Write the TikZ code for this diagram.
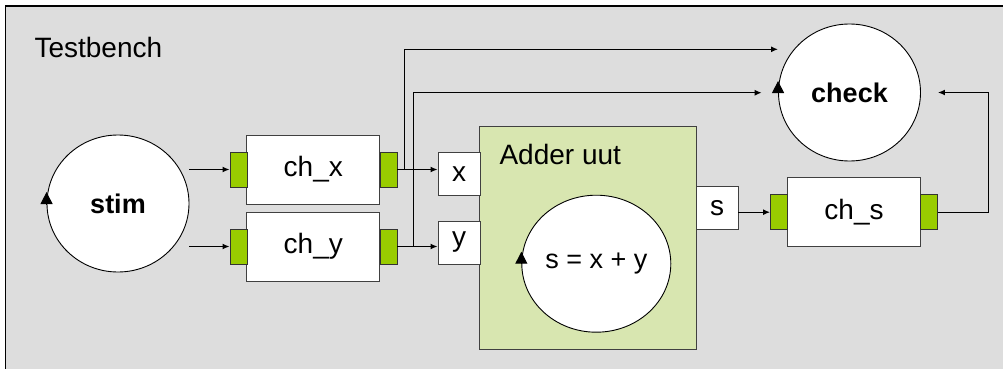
\documentclass[tikz,border=0pt]{standalone}
\usepackage{fontspec}
\setmainfont{Liberation Sans}
\usetikzlibrary{arrows.meta, positioning, shapes.geometric}
\definecolor{benchgray}{RGB}{221,221,221}
\definecolor{portgreen}{RGB}{153,204,0}
\definecolor{addergreen}{RGB}{216,230,176}
\definecolor{boxline}{RGB}{64,64,64}

\begin{document}
\begin{tikzpicture}[x=1pt, y=-1pt,
  proc/.style={ellipse, draw, line width=0.9pt, fill=white, minimum width=142pt, minimum height=137pt, inner sep=0pt},
  chan/.style={rectangle, draw=boxline, line width=0.9pt, fill=white, minimum width=133pt, minimum height=69pt, font=\fontsize{28}{32}\selectfont},
  port/.style={rectangle, draw=black!80, line width=0.9pt, fill=portgreen, minimum width=17pt, minimum height=35pt, inner sep=0pt},
  pin/.style={rectangle, draw=boxline, line width=0.9pt, fill=white, minimum width=42pt, minimum height=43pt, inner sep=0pt, font=\fontsize{28}{32}\selectfont},
  sig/.style={-{Latex[length=7pt,width=6pt]}, line width=1.3pt},
  cyc/.style={-{Triangle[length=12pt,width=12pt]}, line width=1pt}]
  \useasboundingbox (0,0) rectangle (1003,369);
  % Testbench frame
  \fill[benchgray] (5.5,6) rectangle (1010,380);
  \draw[line width=1.3pt] (5.5,380) -- (5.5,6) -- (1010,6);
  \node[anchor=west, font=\fontsize{28}{32}\selectfont] (tb) at (31,47.5) {Testbench};
  % Processes
  \node[proc, font=\fontsize{27}{30}\selectfont\bfseries] (stim) at (118,203.5) {stim};
  \node[proc, font=\fontsize{27}{30}\selectfont\bfseries] (check) at (849.5,92.5) {check};
  \draw[cyc] (stim.west) ++(0,1) -- ++(0,-12.5);
  \draw[cyc] (check.west) ++(0,1) -- ++(0,-12.5);
  % Channels
  \node[chan] (chx) at (313.3,169.5) {ch\_x};
  \node[chan] (chy) at (313.3,246.5) {ch\_y};
  \node[chan] (chs) at (854,212.2) {ch\_s};
  \node[port] (chxin) at (238.5,169.5) {};
  \node[port] (chxout) at (388.5,169.5) {};
  \node[port] (chyin) at (238.5,246.5) {};
  \node[port] (chyout) at (388.5,246.5) {};
  \node[port] (chsin) at (779,212.2) {};
  \node[port] (chsout) at (929,212.2) {};
  % Adder uut
  \node[rectangle, draw=boxline, line width=0.9pt, fill=addergreen, minimum width=216.7pt, minimum height=222.6pt] (uut) at (587.7,238) {};
  \node[anchor=west, font=\fontsize{28}{32}\selectfont] (uutlbl) at (496,154) {Adder uut};
  \node[proc, minimum width=149pt, font=\fontsize{27}{30}\selectfont] (add) at (596.3,263.7) {s = x + y};
  \draw[cyc] (add.west) -- ++(0,-12);
  \node[pin] (px) at (459,174) {x};
  \node[pin] (py) at (459,242.5) {y};
  \node[pin] (ps) at (717,208) {s};
  % Signals
  \coordinate (jx) at (404.3,169.5);
  \coordinate (jy) at (413.3,246.5);
  \coordinate (chka) at (778,49.3);
  \coordinate (chkb) at (761.7,92.7);
  \draw[sig] (stim.east |- chxin.west) -- (chxin.west);
  \draw[sig] (stim.east |- chyin.west) -- (chyin.west);
  \draw[sig] (chxout.east) -- (chxout.east -| px.west);
  \draw[sig] (chyout.east) -- (chyout.east -| py.west);
  \draw[sig] (jx) |- (chka);
  \draw[sig] (jy) |- (chkb);
  \draw[sig] (ps.east |- chsin.west) -- (chsin.west);
  \draw[sig] (chsout.east) -- ++(50.3,0) |- ([xshift=17pt]check.east);
\end{tikzpicture}
\end{document}
